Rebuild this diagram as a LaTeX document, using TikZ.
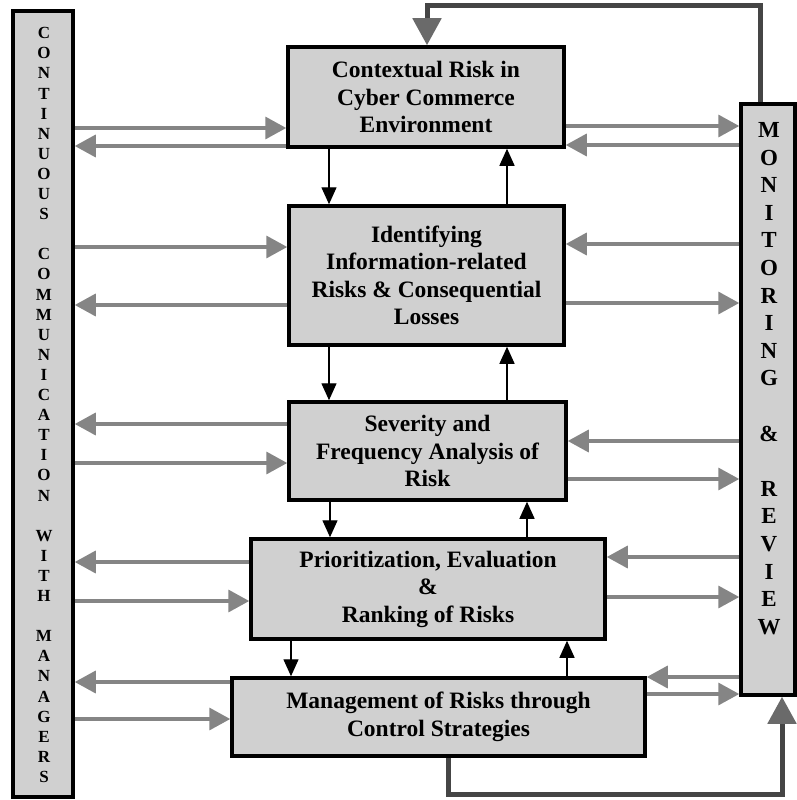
\documentclass[tikz,border=0pt]{standalone}
\usepackage{fontspec}
\setmainfont{Liberation Serif}
\usetikzlibrary{arrows.meta}
\definecolor{boxfill}{HTML}{D0D0D0}
\definecolor{harrowc}{HTML}{858585}
\definecolor{fbc}{HTML}{454545}
\definecolor{fbhead}{HTML}{6A6A6A}
\begin{document}
\begin{tikzpicture}[x=1pt,y=-1pt,
  stage/.style={draw=black, line width=3.5pt, fill=boxfill, inner sep=0pt, align=center,
    font=\fontsize{23.5}{27.5}\selectfont\bfseries},
  side/.style={draw=black, line width=3.5pt, fill=boxfill, inner sep=0pt},
  vtext/.style={align=center, inner sep=0pt},
  harrow/.style={draw=harrowc, line width=3.5pt,
    -{Triangle[length=21pt,width=22pt,color=harrowc]}},
  varrow/.style={draw=black, line width=1.4pt,
    -{Triangle[length=17pt,width=15pt,color=black]}},
  fb/.style={draw=fbc, line width=5pt, line join=miter,
    -{Triangle[length=27pt,width=28pt,color=fbhead]}}]
\fill[white] (0,0) rectangle (796,800);
\useasboundingbox (0,0) rectangle (796,800);

% side columns
\node[side, minimum width=60pt, minimum height=786pt] (comm) at (43,404) {};
\node[side, minimum width=54pt, minimum height=591pt] (mon) at (768,399.5) {};
\node[vtext, font=\fontsize{17}{20.1}\selectfont\bfseries] (commtext) at (44,405)
  {C\\O\\N\\T\\I\\N\\U\\O\\U\\S\\~\\C\\O\\M\\M\\U\\N\\I\\C\\A\\T\\I\\O\\N\\~\\W\\I\\T\\H\\~\\M\\A\\N\\A\\G\\E\\R\\S};
\node[vtext, font=\fontsize{23}{27.6}\selectfont\bfseries] (montext) at (769,378.5)
  {M\\O\\N\\I\\T\\O\\R\\I\\N\\G\\~\\\&\\~\\R\\E\\V\\I\\E\\W};

% stages
\node[stage, minimum width=276pt, minimum height=100pt] (b1) at (426,97)
  {Contextual Risk in\\Cyber Commerce\\Environment};
\node[stage, minimum width=275pt, minimum height=139pt] (b2) at (426.5,275.5)
  {Identifying\\Information-related\\Risks \& Consequential\\Losses};
\node[stage, minimum width=277pt, minimum height=98pt] (b3) at (427.5,451)
  {Severity and\\Frequency Analysis of\\Risk};
\node[stage, minimum width=354pt, minimum height=100pt] (b4) at (428,589)
  {Prioritization, Evaluation\\\&\\Ranking of Risks};
\node[stage, minimum width=413pt, minimum height=78pt] (b5) at (438.5,717)
  {Management of Risks through\\Control Strategies};

% left side arrows
\draw[harrow] (comm.east |- 0,128) -- (b1.west |- 0,128);
\draw[harrow] (b1.west |- 0,146) -- (comm.east |- 0,146);
\draw[harrow] (comm.east |- 0,247) -- (b2.west |- 0,247);
\draw[harrow] (b2.west |- 0,305) -- (comm.east |- 0,305);
\draw[harrow] (b3.west |- 0,424) -- (comm.east |- 0,424);
\draw[harrow] (comm.east |- 0,463) -- (b3.west |- 0,463);
\draw[harrow] (b4.west |- 0,562) -- (comm.east |- 0,562);
\draw[harrow] (comm.east |- 0,601) -- (b4.west |- 0,601);
\draw[harrow] (b5.west |- 0,682) -- (comm.east |- 0,682);
\draw[harrow] (comm.east |- 0,719) -- (b5.west |- 0,719);

% right side arrows
\draw[harrow] (b1.east |- 0,126) -- (mon.west |- 0,126);
\draw[harrow] (mon.west |- 0,145) -- (b1.east |- 0,145);
\draw[harrow] (mon.west |- 0,244) -- (b2.east |- 0,244);
\draw[harrow] (b2.east |- 0,303) -- (mon.west |- 0,303);
\draw[harrow] (mon.west |- 0,441) -- (b3.east |- 0,441);
\draw[harrow] (b3.east |- 0,479) -- (mon.west |- 0,479);
\draw[harrow] (mon.west |- 0,557) -- (b4.east |- 0,557);
\draw[harrow] (b4.east |- 0,597) -- (mon.west |- 0,597);
\draw[harrow] (mon.west |- 0,677) -- (b5.east |- 0,677);
\draw[harrow] (b5.east |- 0,694) -- (mon.west |- 0,694);

% vertical flow arrows
\draw[varrow] (b1.south -| 329,0) -- (b2.north -| 329,0);
\draw[varrow] (b2.north -| 507,0) -- (b1.south -| 507,0);
\draw[varrow] (b2.south -| 329,0) -- (b3.north -| 329,0);
\draw[varrow] (b3.north -| 507,0) -- (b2.south -| 507,0);
\draw[varrow] (b3.south -| 330,0) -- (b4.north -| 330,0);
\draw[varrow] (b4.north -| 527,0) -- (b3.south -| 527,0);
\draw[varrow] (b4.south -| 291,0) -- (b5.north -| 291,0);
\draw[varrow] (b5.north -| 567,0) -- (b4.south -| 567,0);

% feedback loops
\draw[fb] ([xshift=-8pt]mon.north) -- ++(0,-97) -| ([xshift=1pt]b1.north);
\draw[fb] ([xshift=9.5pt]b5.south) -- ++(0,37) -| ([xshift=14pt]mon.south);
\end{tikzpicture}
\end{document}
